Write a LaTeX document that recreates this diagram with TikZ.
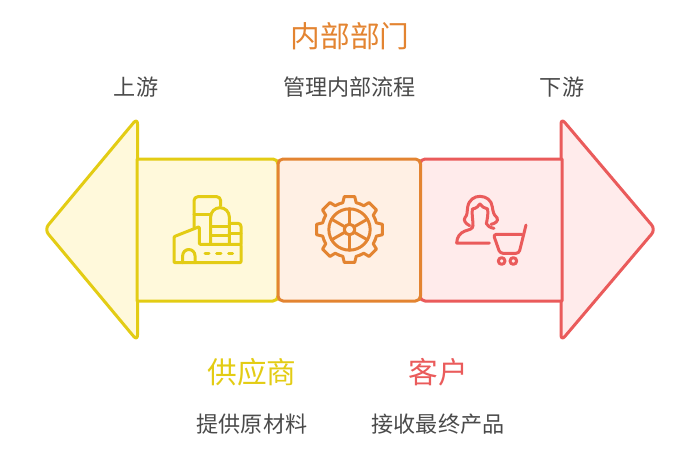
\documentclass[tikz,border=0pt]{standalone}
\usepackage{fontspec}
\setmainfont{Noto Sans CJK SC}
\definecolor{supplyline}{HTML}{E3CC14}
\definecolor{supplyfill}{HTML}{FFF9DB}
\definecolor{insideline}{HTML}{E38431}
\definecolor{insidefill}{HTML}{FFF0E4}
\definecolor{buyerline}{HTML}{EA5B5B}
\definecolor{buyerfill}{HTML}{FFEBEB}
\definecolor{bodytext}{HTML}{4A4A4A}
\tikzset{
  supplyshape/.style={draw=supplyline, fill=supplyfill, line width=3pt, line join=round},
  insideshape/.style={draw=insideline, fill=insidefill, line width=3pt, line join=round},
  buyershape/.style={draw=buyerline, fill=buyerfill, line width=3pt, line join=round},
  supplyicon/.style={draw=supplyline, line width=3pt, line join=round, line cap=round},
  insideicon/.style={draw=insideline, line width=3pt, line join=round, line cap=round},
  buyericon/.style={draw=buyerline, line width=3pt, line join=round, line cap=round},
  headtext/.style={inner sep=0pt, font=\fontsize{29.7}{34}\selectfont},
  smalltext/.style={inner sep=0pt, text=bodytext, font=\fontsize{22.1}{26}\selectfont}
}
\begin{document}
\begin{tikzpicture}[x=1pt,y=-1pt]
\useasboundingbox (0,0) rectangle (691,463);
% left and right arrow heads
\draw[supplyshape, rounded corners=6] (137.5,118) -- (137.5,341) -- (44.5,229.5) -- cycle;
\draw[buyershape, rounded corners=6] (561,118) -- (655.5,229.5) -- (561,341) -- cycle;
% three boxes
\draw[supplyshape] (137,159) [rounded corners=5] -- (278,159) -- (278,301) [sharp corners] -- (137,301) -- cycle;
\draw[buyershape] (562,159) [rounded corners=5] -- (420,159) -- (420,301) [sharp corners] -- (562,301) -- cycle;
\draw[insideshape, rounded corners=5] (278,159) rectangle (420.5,301);
% factory
\begin{scope}[shift={(160,185)},scale=1/3]
\draw[supplyicon, rounded corners=1] (42,233) -- (42,155) -- (118,125) -- (118,178) -- (243,178) -- (243,233) -- cycle;
\draw[supplyicon] (68,233) -- (68,212) arc (180:360:18.5) -- (105,233);
\draw[supplyicon] (135,205) -- (147,205);
\draw[supplyicon] (170,205) -- (183,205);
\draw[supplyicon] (206,205) -- (218,205);
\draw[supplyicon, rounded corners=4] (102,128) -- (102,35) -- (182,35) -- (182,62);
\draw[supplyicon] (102,88) -- (152,88);
\draw[supplyicon] (152,178) -- (152,96) arc (180:360:28) -- (208,178);
\draw[supplyicon] (152,125) -- (208,125);
\draw[supplyicon] (152,152) -- (208,152);
\draw[supplyicon, rounded corners=3] (208,115) -- (243,115) -- (243,178);
\draw[supplyicon] (208,145) -- (243,145);
\end{scope}
% gear
\begin{scope}[shift={(349.5,229.5)},scale=1/3]
\foreach \a in {0,45,...,315}
  \draw[insideicon] (\a-22.5:83) arc (\a-22.5:\a-14:83) -- (\a-9:100) -- (\a+9:100) -- (\a+14:83) arc (\a+14:\a+22.5:83);
\draw[insideicon] (0,0) circle (62);
\draw[insideicon] (0,0) circle (16);
\foreach \a in {30,90,...,330}
  \draw[insideicon] (\a:16) -- (\a:62);
\end{scope}
% customer with cart
\begin{scope}[shift={(445,185)},scale=1/3]
\draw[buyericon] (74,122) .. controls (62,116) and (54,106) .. (60,98) .. controls (68,90) and (66,78) .. (68,66) .. controls (72,44) and (88,34) .. (105,34) .. controls (124,34) and (140,46) .. (142,66) .. controls (144,80) and (146,90) .. (156,98) .. controls (162,108) and (150,116) .. (138,118);
\draw[buyericon] (84,122) .. controls (84,104) and (80,90) .. (82,72) .. controls (94,70) and (100,64) .. (105,57) .. controls (110,64) and (118,70) .. (128,72) .. controls (130,90) and (126,106) .. (124,116) .. controls (128,124) and (136,128) .. (147,130);
\draw[buyericon] (84,122) .. controls (84,132) and (72,134) .. (60,138) .. controls (44,144) and (36,156) .. (35,174) -- (133,174);
\draw[buyericon, rounded corners=3] (243,120) -- (222,205) -- (165,205) -- (145,148) -- (229,148);
\draw[buyericon] (170,228) circle (10);
\draw[buyericon] (205,228) circle (10);
\end{scope}
% texts
\node[headtext, text=insideline] (insidehead) at (350,36) {内部部门};
\node[smalltext] (upstream) at (136,87) {上游};
\node[smalltext] (insidenote) at (349.5,87) {管理内部流程};
\node[smalltext] (downstream) at (562,87) {下游};
\node[headtext, text=supplyline] (supplyhead) at (252,372) {供应商};
\node[headtext, text=buyerline] (buyerhead) at (438,372) {客户};
\node[smalltext] (supplynote) at (252,424) {提供原材料};
\node[smalltext] (buyernote) at (438,424) {接收最终产品};
\end{tikzpicture}
\end{document}
